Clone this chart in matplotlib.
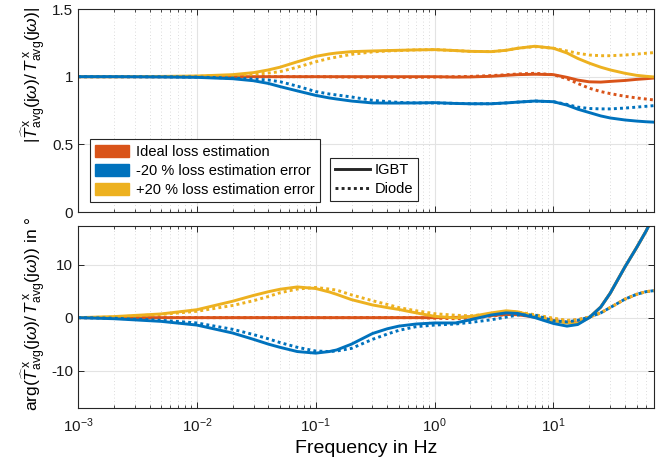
import numpy as np
import matplotlib
matplotlib.use("Agg")
import matplotlib.pyplot as plt
from matplotlib.lines import Line2D
from matplotlib.patches import Patch
from matplotlib.ticker import LogLocator, NullFormatter, FixedLocator

plt.rcParams['font.family'] = ['Liberation Sans', 'DejaVu Sans']
plt.rcParams['mathtext.fontset'] = 'custom'
plt.rcParams['mathtext.rm'] = 'Liberation Sans'
plt.rcParams['mathtext.it'] = 'Liberation Sans:italic'
plt.rcParams['mathtext.bf'] = 'Liberation Sans:bold'

# ---------------- data ----------------
freq = [0.001, 0.002, 0.005, 0.01, 0.02, 0.03, 0.04, 0.05, 0.07, 0.1, 0.13, 0.15, 0.2, 0.3, 0.4, 0.5, 0.7,
        1, 1.5, 2, 3, 4, 5, 7, 10, 13, 16, 20, 25, 30, 40, 50, 60, 70]

# magnitude
mag_ideal_igbt = [1, 1, 1, 1, 1, 1, 1, 1, 1, 1, 1, 1, 1, 1, 1, 1, 1,
                  1.0, 0.997, 0.998, 1.003, 1.01, 1.015, 1.018, 1.015, 0.995, 0.975, 0.962, 0.96, 0.965, 0.972, 0.98, 0.985, 0.99]
mag_ideal_diode = [1, 1, 1, 1, 1, 1, 1, 1, 1, 1, 0.999, 0.998, 0.997, 0.996, 0.996, 0.995, 0.996,
                   0.997, 1.0, 1.002, 1.008, 1.014, 1.02, 1.025, 1.015, 0.985, 0.95, 0.915, 0.89, 0.875, 0.855, 0.843, 0.835, 0.828]
mag_minus_igbt = [1, 1, 0.998, 0.995, 0.985, 0.97, 0.95, 0.927, 0.895, 0.862, 0.843, 0.835, 0.82, 0.806, 0.805, 0.805, 0.806,
                  0.808, 0.802, 0.8, 0.8, 0.806, 0.812, 0.82, 0.815, 0.79, 0.76, 0.735, 0.71, 0.695, 0.68, 0.672, 0.667, 0.664]
mag_minus_diode = [1, 1, 0.999, 0.997, 0.99, 0.982, 0.975, 0.963, 0.93, 0.89, 0.872, 0.865, 0.85, 0.825, 0.816, 0.81, 0.806,
                   0.806, 0.803, 0.8, 0.8, 0.806, 0.812, 0.82, 0.815, 0.795, 0.775, 0.765, 0.762, 0.762, 0.768, 0.775, 0.781, 0.786]
mag_plus_igbt = [1, 1, 1.002, 1.005, 1.015, 1.03, 1.05, 1.07, 1.11, 1.15, 1.168, 1.175, 1.185, 1.19, 1.193, 1.195, 1.198,
                 1.2, 1.193, 1.187, 1.185, 1.195, 1.21, 1.225, 1.21, 1.175, 1.135, 1.1, 1.07, 1.05, 1.025, 1.01, 1.003, 0.998]
mag_plus_diode = [1, 1, 1.0, 1.003, 1.01, 1.018, 1.027, 1.037, 1.07, 1.11, 1.135, 1.145, 1.165, 1.183, 1.19, 1.193, 1.198,
                  1.2, 1.193, 1.187, 1.185, 1.195, 1.21, 1.222, 1.21, 1.19, 1.173, 1.16, 1.155, 1.155, 1.16, 1.167, 1.173, 1.178]

# phase in degrees
ph_minus_igbt = [0, -0.2, -0.7, -1.4, -2.9, -4.1, -5.0, -5.6, -6.4, -6.7, -6.4, -6.1, -5.0, -3.0, -2.1, -1.6, -1.2,
                 -1.0, -1.0, -0.4, 0.5, 0.9, 0.8, 0.0, -1.1, -1.6, -1.3, 0.0, 2.0, 4.6, 9.6, 13.2, 16.3, 19.3]
ph_minus_diode = [0, -0.1, -0.5, -1.0, -2.2, -3.2, -4.0, -4.7, -5.6, -6.3, -6.4, -6.3, -5.8, -4.1, -3.1, -2.4, -1.7,
                  -1.4, -1.2, -0.9, -0.4, 0.1, 0.5, 0.5, -0.6, -0.8, -0.5, 0.1, 0.9, 1.9, 3.5, 4.4, 4.9, 5.1]
ph_plus_igbt = [0, 0.2, 0.7, 1.5, 3.1, 4.2, 4.9, 5.36, 5.8, 5.5, 4.85, 4.4, 3.4, 2.4, 1.9, 1.55, 0.9,
                0.25, -0.05, 0.2, 0.9, 1.3, 1.1, 0.25, -0.6, -1.0, -1.1, 0.0, 2.0, 4.6, 9.6, 13.2, 16.3, 19.3]
ph_plus_diode = [0, 0.1, 0.6, 1.2, 2.3, 3.2, 4.0, 4.7, 5.4, 5.7, 5.4, 5.2, 4.3, 3.2, 2.5, 1.9, 1.3,
                 0.75, 0.45, 0.35, 0.7, 1.1, 1.05, 0.55, -0.1, -0.5, -0.4, 0.1, 0.9, 1.9, 3.5, 4.4, 4.9, 5.1]
ph_ideal_igbt = [0, 0, 0, 0, 0, 0, 0, 0, 0, 0, 0, 0, 0, 0, 0, 0, 0,
                 0, 0.05, 0.15, 0.4, 0.6, 0.55, 0.1, -0.5, -0.9, -1.0, 0.0, 2.0, 4.6, 9.6, 13.2, 16.3, 19.3]
ph_ideal_diode = [0, 0, 0, 0, 0, 0, 0, 0, 0, 0, 0, 0, 0, 0, 0, 0, 0,
                  -0.1, -0.2, -0.1, 0.3, 0.6, 0.6, 0.3, -0.3, -0.6, -0.4, 0.1, 0.9, 1.9, 3.5, 4.4, 4.9, 5.1]

legend_cases = ['Ideal loss estimation', '-20 % loss estimation error', '+20 % loss estimation error']
legend_types = ['IGBT', 'Diode']

C_RED = '#D95319'
C_BLUE = '#0072BD'
C_YEL = '#EDB120'

# ---------------- figure ----------------
fig = plt.figure(figsize=(6.65, 4.67), dpi=100)
ax1 = fig.add_axes([0.1173, 0.546, 0.866, 0.4347])
ax2 = fig.add_axes([0.1173, 0.127, 0.866, 0.389])

LW = 2.1
DOT = (0, (1, 1.1))

def draw(ax, ideal_i, ideal_d, minus_i, minus_d, plus_i, plus_d):
    ax.plot(freq, ideal_d, color=C_RED, lw=LW, ls=DOT)
    ax.plot(freq, ideal_i, color=C_RED, lw=LW)
    ax.plot(freq, plus_d, color=C_YEL, lw=LW, ls=DOT)
    ax.plot(freq, plus_i, color=C_YEL, lw=LW)
    ax.plot(freq, minus_d, color=C_BLUE, lw=LW, ls=DOT)
    ax.plot(freq, minus_i, color=C_BLUE, lw=LW)

draw(ax1, mag_ideal_igbt, mag_ideal_diode, mag_minus_igbt, mag_minus_diode, mag_plus_igbt, mag_plus_diode)
draw(ax2, ph_ideal_igbt, ph_ideal_diode, ph_minus_igbt, ph_minus_diode, ph_plus_igbt, ph_plus_diode)

for ax in (ax1, ax2):
    ax.set_xscale('log')
    ax.set_xlim(1e-3, 70)
    ax.xaxis.set_major_locator(LogLocator(base=10, numticks=10))
    ax.xaxis.set_minor_locator(LogLocator(base=10, subs=np.arange(2, 10), numticks=10))
    ax.xaxis.set_minor_formatter(NullFormatter())
    ax.grid(True, which='major', color='#e3e3e3', lw=0.8, ls='-')
    ax.grid(True, which='minor', axis='x', color='#d0d0d0', lw=0.6, ls=(0, (1, 3)))
    ax.set_axisbelow(True)
    ax.tick_params(which='both', direction='in', top=True, right=True, colors='#262626',
                   labelsize=11, labelcolor='#1a1a1a')
    ax.tick_params(which='major', length=4, width=0.7)
    ax.tick_params(which='minor', length=2.5, width=0.6)
    for s in ax.spines.values():
        s.set_color('#262626')
        s.set_linewidth(0.8)

ax1.set_ylim(0, 1.5)
ax1.yaxis.set_major_locator(FixedLocator([0, 0.5, 1, 1.5]))
ax1.set_yticklabels(['0', '0.5', '1', '1.5'])
ax1.tick_params(axis='x', labelbottom=False)

ax2.set_ylim(-17, 17.3)
ax2.yaxis.set_major_locator(FixedLocator([-10, 0, 10]))
ax2.set_yticklabels(['-10', '0', '10'])
ax2.tick_params(axis='x', pad=6)

ax1.set_ylabel(r'$|\widehat{T}^{\,\mathrm{x}}_{\mathrm{avg}}(\mathrm{j}\omega)/\,T^{\,\mathrm{x}}_{\mathrm{avg}}(\mathrm{j}\omega)|$',
               fontsize=12.5)
ax2.set_ylabel(r'arg($\widehat{T}^{\,\mathrm{x}}_{\mathrm{avg}}(\mathrm{j}\omega)/\,T^{\,\mathrm{x}}_{\mathrm{avg}}(\mathrm{j}\omega)$) in °',
               fontsize=12.5)
ax1.yaxis.set_label_coords(-0.052, 0.675)
ax2.yaxis.set_label_coords(-0.052, 0.518)
ax2.set_xlabel('Frequency in Hz', fontsize=14, labelpad=4)

h1 = [Patch(facecolor=c, edgecolor=c) for c in (C_RED, C_BLUE, C_YEL)]
leg1 = ax1.legend(h1, legend_cases, loc='lower left', bbox_to_anchor=(0.0208, 0.049),
                  borderaxespad=0, fontsize=10.5, frameon=True, fancybox=False,
                  edgecolor='#262626', framealpha=1, handlelength=2.3, handleheight=0.9,
                  handletextpad=0.5, labelspacing=0.35, borderpad=0.35)
leg1.get_frame().set_linewidth(0.8)
ax1.add_artist(leg1)

h2 = [Line2D([], [], color='#262626', lw=2.1), Line2D([], [], color='#262626', lw=2.1, ls=DOT)]
leg2 = ax1.legend(h2, legend_types, loc='lower left', bbox_to_anchor=(0.4375, 0.054),
                  borderaxespad=0, fontsize=10.5, frameon=True, fancybox=False,
                  edgecolor='#262626', framealpha=1, handlelength=2.4,
                  handletextpad=0.3, labelspacing=0.35, borderpad=0.35)
leg2.get_frame().set_linewidth(0.8)

fig.savefig('out.png', dpi=100)
